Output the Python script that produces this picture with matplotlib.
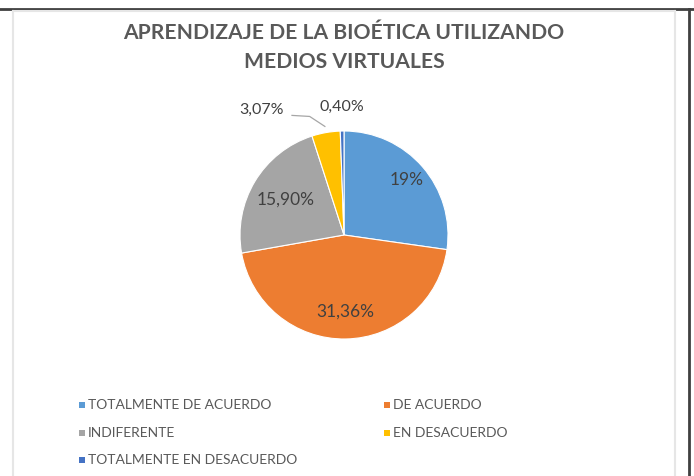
import numpy as np
import matplotlib.pyplot as plt
from matplotlib.patches import Rectangle

categories = ['TOTALMENTE DE ACUERDO', 'DE ACUERDO', 'INDIFERENTE',
              'EN DESACUERDO', 'TOTALMENTE EN DESACUERDO']
values = [19, 31.36, 15.90, 3.07, 0.40]
value_labels = ['19%', '31,36%', '15,90%', '3,07%', '0,40%']
colors = ['#5B9BD5', '#ED7D31', '#A5A5A5', '#FFC000', '#4472C4']

plt.rcParams['font.family'] = ['Lato', 'DejaVu Sans']

W, H = 694, 476
fig = plt.figure(figsize=(W / 100, H / 100), dpi=100)

# frame lines (dark outer, light inner)
fig.add_artist(plt.Line2D([0, 1], [1 - 9 / H, 1 - 9 / H], color='#404040', lw=2))
fig.add_artist(plt.Line2D([1 - 5 / W, 1 - 5 / W], [0, 1 - 9 / H], color='#404040', lw=2))
fig.add_artist(plt.Line2D([13 / W, 13 / W], [0, 1 - 11 / H], color='#e6e6e6', lw=1.5))
fig.add_artist(plt.Line2D([675 / W, 675 / W], [0, 1 - 11 / H], color='#e6e6e6', lw=1.5))
fig.add_artist(plt.Line2D([13 / W, 675 / W], [1 - 11 / H, 1 - 11 / H], color='#e6e6e6', lw=1.5))

fig.text(344 / W, 1 - 33 / H, 'APRENDIZAJE DE LA BIOÉTICA UTILIZANDO',
         ha='center', va='center', fontsize=15.2, fontweight='bold', color='#595959')
fig.text(344 / W, 1 - 62 / H, 'MEDIOS VIRTUALES',
         ha='center', va='center', fontsize=15.2, fontweight='bold', color='#595959')

# pie
cx, cy, r = 344, 235, 104
ax = fig.add_axes([(cx - r) / W, (H - cy - r) / H, 2 * r / W, 2 * r / H])
wedges, _ = ax.pie(values, colors=colors, startangle=90, counterclock=False,
                   radius=1, wedgeprops=dict(edgecolor='white', linewidth=0.8))
ax.set_xlim(-1, 1)
ax.set_ylim(-1, 1)
ax.set_aspect('equal')
ax.axis('off')

inner_dist = [0.8, 0.74, 0.66]
for i, w in enumerate(wedges[:3]):
    mid = np.deg2rad((w.theta1 + w.theta2) / 2)
    d = inner_dist[i]
    ax.text(d * np.cos(mid), d * np.sin(mid), value_labels[i],
            ha='center', va='center', fontsize=12.5, color='#404040')

# small slices labelled outside, with a leader line for the yellow one
y3 = wedges[3]
mid3 = np.deg2rad((y3.theta1 + y3.theta2) / 2)
tip = np.array([np.cos(mid3), np.sin(mid3)]) * 1.06
ax.text(-0.79, 1.2, value_labels[3], ha='center', va='center',
        fontsize=11.5, color='#404040', clip_on=False)
ax.plot([-0.5, -0.33, tip[0]], [1.15, 1.14, tip[1]], color='#a6a6a6',
        lw=0.9, clip_on=False)
ax.text(-0.02, 1.23, value_labels[4], ha='center', va='center',
        fontsize=11.5, color='#404040', clip_on=False)

# legend
legend_pos = [(82, 405), (387, 405), (82, 433), (387, 433), (82, 460)]
for (lx, ly), name, c in zip(legend_pos, categories, colors):
    fig.add_artist(Rectangle(((lx - 3) / W, 1 - (ly + 3) / H), 6 / W, 6 / H,
                             facecolor=c, edgecolor='none', transform=fig.transFigure))
    fig.text((lx + 6) / W, 1 - ly / H, name, ha='left', va='center',
             fontsize=10, color='#595959')

fig.savefig('out.png', dpi=100)
